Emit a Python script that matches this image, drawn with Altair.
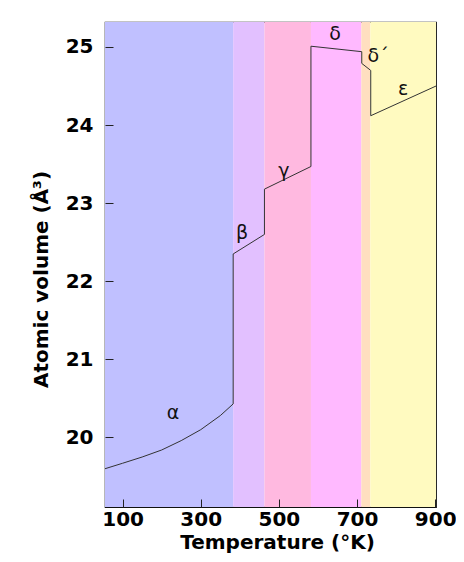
import altair as alt
import pandas as pd

# Phase bands
phase_names = ["α", "β", "γ", "δ", "δ´", "ε"]
phase_start = [55, 383, 463, 582, 711, 734]
phase_end = [383, 463, 582, 711, 734, 902]
phase_colors = ["#c0c0ff", "#e2c0ff", "#ffb9e0", "#ffb9ff", "#ffdfc0", "#fffac0"]

# Atomic volume curve
temp = [55, 100, 150, 200, 250, 300, 350, 383, 383, 463, 463, 582, 582, 712, 712, 735, 735, 902]
volume = [19.60, 19.67, 19.75, 19.84, 19.96, 20.10, 20.28, 20.43, 22.35, 22.60,
          23.18, 23.47, 25.01, 24.94, 24.79, 24.70, 24.12, 24.50]

# Phase labels
label_text = ["α", "β", "γ", "δ", "δ´", "ε"]
label_t = [229, 406, 513, 644, 754, 818]
label_v = [20.31, 22.62, 23.41, 25.16, 24.88, 24.46]

x_ticks = [100, 300, 500, 700, 900]
y_ticks = [20, 21, 22, 23, 24, 25]
x_domain = [55, 902]
y_domain = [19.11, 25.32]

FONT = "DejaVu Sans"

bands = pd.DataFrame({"phase": phase_names, "start": phase_start, "end": phase_end})
curve = pd.DataFrame({"t": temp, "v": volume, "order": list(range(len(temp)))})
labels = pd.DataFrame({"txt": label_text, "t": label_t, "v": label_v})

xscale = alt.Scale(domain=x_domain, nice=False, zero=False)
yscale = alt.Scale(domain=y_domain, nice=False, zero=False)

main_x_axis = alt.Axis(values=x_ticks, orient="bottom", ticks=False, tickSize=0, domain=False,
                       grid=False, labelPadding=2, labelFlush=False, labelOverlap=False,
                       title="Temperature (°K)", titlePadding=3, titleX=172)
main_y_axis = alt.Axis(values=y_ticks, orient="left", ticks=False, tickSize=0, domain=False,
                       grid=False, labelPadding=12, labelFlush=False, labelOverlap=False,
                       title="Atomic volume (Å³)", titlePadding=14, titleY=257)

band_layer = alt.Chart(bands).mark_rect(opacity=1).encode(
    x=alt.X("start:Q", scale=xscale, axis=main_x_axis),
    x2="end:Q",
    y=alt.value(0),
    y2=alt.value(485),
    color=alt.Color("phase:N", scale=alt.Scale(domain=phase_names, range=phase_colors), legend=None),
)

tick_x_axis = alt.Axis(values=x_ticks, orient="bottom", offset=-8, tickSize=8, ticks=True,
                       labels=False, domain=False, grid=False, title=None, tickColor="#222222",
                       tickWidth=1, zindex=2)
tick_y_axis = alt.Axis(values=y_ticks, orient="left", offset=-8, tickSize=8, ticks=True,
                       labels=False, domain=False, grid=False, title=None, tickColor="#222222",
                       tickWidth=1, zindex=2)

line_layer = alt.Chart(curve).mark_line(color="#333333", strokeWidth=1).encode(
    x=alt.X("t:Q", scale=xscale, axis=tick_x_axis),
    y=alt.Y("v:Q", scale=yscale, axis=tick_y_axis),
    order="order:Q",
)

text_layer = alt.Chart(labels).mark_text(font=FONT, fontSize=19, color="#111111",
                                         baseline="middle", align="center").encode(
    x=alt.X("t:Q", scale=xscale, axis=None),
    y=alt.Y("v:Q", scale=yscale, axis=main_y_axis),
    text="txt:N",
)

chart = alt.layer(band_layer, line_layer, text_layer).resolve_axis(
    x="independent", y="independent"
).properties(
    width=331,
    height=485,
    autosize=alt.AutoSizeParams(type="none"),
    padding={"left": 97, "top": 14, "right": 20, "bottom": 50},
).configure_view(
    stroke="#111111", strokeWidth=1.2
).configure_axis(
    labelFont=FONT, labelFontSize=20, labelFontWeight="bold", labelColor="#000000",
    titleFont=FONT, titleFontSize=20, titleFontWeight="bold", titleColor="#000000",
)

chart.save("out.html", embed_options={"renderer": "svg", "actions": False})
